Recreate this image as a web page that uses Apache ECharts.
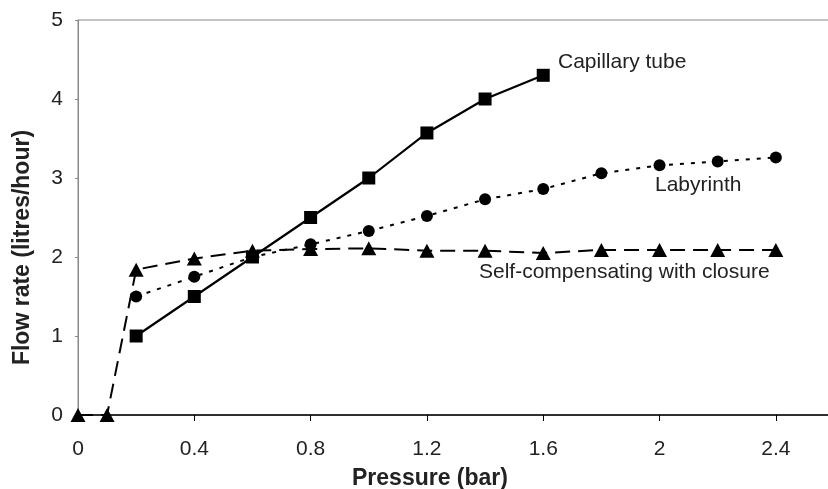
<!DOCTYPE html>
<html>
<head>
<meta charset="utf-8">
<script src="https://cdn.jsdelivr.net/npm/echarts@6/dist/echarts.min.js"></script>
<style>
html,body{margin:0;padding:0;background:#fff;}
#chart{width:828px;height:489px;}
</style>
</head>
<body>
<div id="chart"></div>
<script>
// Pressure (bar) and flow rate (litres/hour)
var capillaryPressure = [0.2, 0.4, 0.6, 0.8, 1.0, 1.2, 1.4, 1.6];
var capillaryFlow     = [1.0, 1.5, 2.0, 2.5, 3.0, 3.57, 4.0, 4.3];

var labyrinthPressure = [0.2, 0.4, 0.6, 0.8, 1.0, 1.2, 1.4, 1.6, 1.8, 2.0, 2.2, 2.4];
var labyrinthFlow     = [1.5, 1.75, 2.0, 2.16, 2.33, 2.52, 2.73, 2.86, 3.06, 3.16, 3.21, 3.26];

var selfCompPressure = [0, 0.1, 0.2, 0.4, 0.6, 0.8, 1.0, 1.2, 1.4, 1.6, 1.8, 2.0, 2.2, 2.4];
var selfCompFlow     = [0, 0, 1.84, 1.98, 2.08, 2.1, 2.11, 2.08, 2.08, 2.05, 2.09, 2.09, 2.09, 2.09];

var seriesNames = ['Capillary tube', 'Labyrinth', 'Self-compensating with closure'];
var xTitle = 'Pressure (bar)';
var yTitle = 'Flow rate (litres/hour)';

function zip(xs, ys) { return xs.map(function (x, i) { return [x, ys[i]]; }); }

var chart = echarts.init(document.getElementById('chart'), null, {renderer: 'canvas'});
var font = 'Liberation Sans, Arial, sans-serif';
var txt = '#222';

chart.setOption({
  animation: false,
  backgroundColor: '#fff',
  grid: {left: 78, top: 20, right: -6, bottom: 74, show: true, borderColor: '#888', borderWidth: 1,
         backgroundColor: 'transparent', containLabel: false, outerBoundsMode: 'none'},
  xAxis: {
    type: 'value', min: 0, max: 2.6, interval: 0.4,
    name: xTitle, nameLocation: 'middle', nameGap: 52,
    nameTextStyle: {fontFamily: font, fontSize: 23, fontWeight: 'bold', color: txt, padding: [0, 52, 0, 0]},
    axisLine: {show: true, lineStyle: {color: '#000', width: 1.5}},
    axisTick: {show: true, length: 6, lineStyle: {color: '#000', width: 1}},
    axisLabel: {fontFamily: font, fontSize: 21, color: txt, margin: 24, showMaxLabel: false},
    splitLine: {show: false}
  },
  yAxis: {
    type: 'value', min: 0, max: 5, interval: 1,
    name: yTitle, nameLocation: 'middle', nameGap: 44,
    nameTextStyle: {fontFamily: font, fontSize: 23, fontWeight: 'bold', color: txt, padding: [0, 60, 0, 0]},
    axisLine: {show: true, lineStyle: {color: '#888', width: 1}},
    axisTick: {show: true, length: 3, lineStyle: {color: '#888', width: 1}},
    axisLabel: {fontFamily: font, fontSize: 21, color: txt, margin: 15},
    splitLine: {show: false}
  },
  series: [
    {
      name: seriesNames[2], type: 'line', data: zip(selfCompPressure, selfCompFlow),
      symbol: 'triangle', symbolSize: [15, 14], showAllSymbol: true,
      lineStyle: {color: '#000', width: 2, type: [15, 8]},
      itemStyle: {color: '#000'}, z: 2
    },
    {
      name: seriesNames[1], type: 'line', data: zip(labyrinthPressure, labyrinthFlow),
      symbol: 'circle', symbolSize: 12, showAllSymbol: true,
      lineStyle: {color: '#000', width: 2, type: [4, 7]},
      itemStyle: {color: '#000'}, z: 3
    },
    {
      name: seriesNames[0], type: 'line', data: zip(capillaryPressure, capillaryFlow),
      symbol: 'rect', symbolSize: 13, showAllSymbol: true,
      lineStyle: {color: '#000', width: 2.2, type: 'solid'},
      itemStyle: {color: '#000'}, z: 4
    }
  ],
  graphic: [
    {type: 'text', left: 558, top: 52, style: {text: seriesNames[0], fontFamily: font, fontSize: 21, fill: txt}},
    {type: 'text', left: 655, top: 175, style: {text: seriesNames[1], fontFamily: font, fontSize: 21, fill: txt}},
    {type: 'text', left: 479, top: 262, style: {text: seriesNames[2], fontFamily: font, fontSize: 21, fill: txt}}
  ]
});
</script>
</body>
</html>
